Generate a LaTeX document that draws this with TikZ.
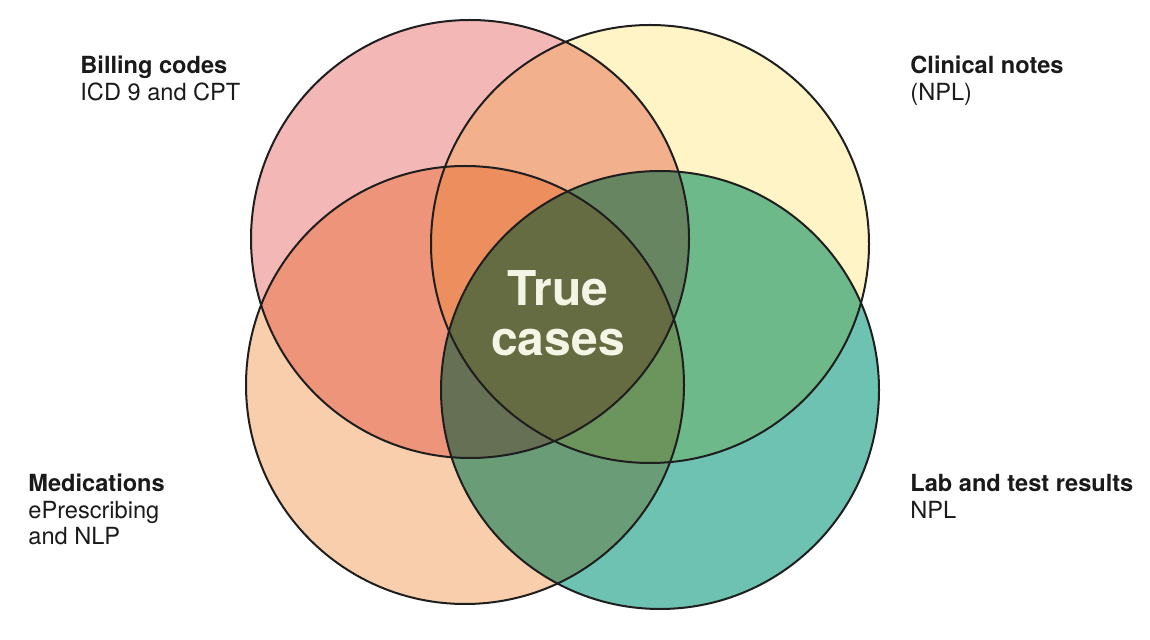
\documentclass[tikz,border=0pt]{standalone}
\usepackage{fontspec}
\setmainfont{TeX Gyre Heros}
\usepackage{xcolor}
\usetikzlibrary{positioning}
\definecolor{clrPink}{HTML}{F3B8B6}
\definecolor{clrYellow}{HTML}{FFF4C6}
\definecolor{clrPeach}{HTML}{F9CEAC}
\definecolor{clrTeal}{HTML}{6EC2B2}
\definecolor{clrOutline}{HTML}{1E1E1E}
\definecolor{clrLabel}{HTML}{1A1A1A}
\definecolor{clrCenterText}{HTML}{F5F5E6}
\tikzset{
  set fill/.style={blend mode=multiply},
  set edge/.style={draw=clrOutline, line width=1pt},
  set title/.style={anchor=north west, inner sep=0pt, align=left, text=clrLabel, font=\fontsize{11.8}{13.2}\selectfont},
  core label/.style={align=center, inner sep=0pt, text=clrCenterText, font=\bfseries\fontsize{24}{25}\selectfont},
}

\begin{document}
\begin{tikzpicture}[x=0.5pt, y=-0.5pt]
  \useasboundingbox (0,0) rectangle (1150,640);

  % Set centres
  \coordinate (billing) at (470,239);
  \coordinate (clinical) at (650,244);
  \coordinate (meds) at (465,385);
  \coordinate (lab) at (660,390);

  % Overlapping fills
  \fill[set fill, clrPink] (billing) circle[radius=219];
  \fill[set fill, clrYellow] (clinical) circle[radius=219];
  \fill[set fill, clrPeach] (meds) circle[radius=219];
  \fill[set fill, clrTeal] (lab) circle[radius=219];

  % Outlines
  \draw[set edge] (billing) circle[radius=219];
  \draw[set edge] (clinical) circle[radius=219];
  \draw[set edge] (meds) circle[radius=219];
  \draw[set edge] (lab) circle[radius=219];

  \node[core label] (core) at (558,313) {True\\cases};

  % Labels
  \node[set title] (billingLbl) at (80,56) {\textbf{Billing codes}\\ICD 9 and CPT};
  \node[set title] (clinicalLbl) at (910,56) {\textbf{Clinical notes}\\(NPL)};
  \node[set title] (medsLbl) at (28,474) {\textbf{Medications}\\ePrescribing\\and NLP};
  \node[set title] (labLbl) at (910,474) {\textbf{Lab and test results}\\NPL};
\end{tikzpicture}
\end{document}
